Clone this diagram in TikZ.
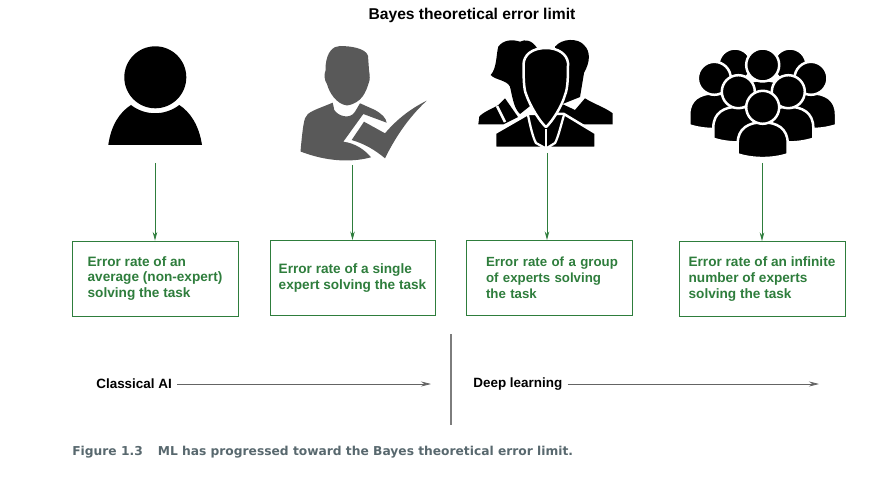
\documentclass[tikz,border=0pt]{standalone}
\usepackage{fontspec}
\setmainfont{Liberation Sans}
\newfontfamily\captionfont{DejaVu Sans}
\usetikzlibrary{arrows.meta}
\definecolor{boxgreen}{RGB}{46,125,60}
\definecolor{linegray}{RGB}{100,100,100}
\definecolor{splitgray}{RGB}{125,125,125}
\definecolor{icongray}{RGB}{89,89,89}
\definecolor{captiongray}{RGB}{88,104,110}
\tikzset{
    errbox/.style={draw=boxgreen, line width=0.55pt, text=boxgreen, align=left, inner sep=0pt, minimum height=1.5cm, font=\bfseries\fontsize{7.75}{9.07}\selectfont},
    errarrow/.style={draw=boxgreen, line width=0.45pt, -{Stealth[length=0.17cm,width=0.09cm]}},
    eraarrow/.style={draw=linegray, line width=0.45pt, -{Stealth[length=0.2cm,width=0.1cm]}},
    eralabel/.style={font=\bfseries\fontsize{7.65}{9}\selectfont, inner sep=0pt},
    outlined/.style={fill=black, draw=white, line width=0.05cm, line join=round},
}
% one person of the crowd: head centre x, y
\newcommand{\crowdbust}[2]{
    \path[outlined] (#1-25,#2+47) -- (#1-25,#2+36) .. controls (#1-25,#2+21) and (#1-14,#2+15) .. (#1,#2+15)
        .. controls (#1+14,#2+15) and (#1+25,#2+21) .. (#1+25,#2+36) -- (#1+25,#2+47)
        .. controls (#1+10,#2+52) and (#1-10,#2+52) .. (#1-25,#2+47) -- cycle;
    \path[outlined] (#1,#2) circle (16.5*0.02cm);
}
\begin{document}
\begin{tikzpicture}[x=0.02cm,y=-0.02cm]
    \useasboundingbox (0,0) rectangle (880,483);
    % average person
    \fill (155.3,77.3) circle (31*0.02cm);
    \fill (108.3,145) .. controls (111,125) and (120,112) .. (131,105)
        .. controls (145,116) and (165,116) .. (179.3,105)
        .. controls (190,112) and (199,125) .. (202,145) -- cycle;
    % single expert
    \fill[icongray] (325.7,65) .. controls (327,52) and (333,46) .. (340,46)
        .. controls (350,46) and (366,48) .. (368,56) -- (369,70) .. controls (370,76) and (370,80) .. (369,82)
        .. controls (366,92) and (362,103) .. (347,105.5) .. controls (336,104) and (329,92) .. (327,84)
        .. controls (324,80) and (324,74) .. (325.7,70) -- cycle;
    \fill[icongray] (332.7,102.7) -- (334.3,110) .. controls (338,116) and (350,120) .. (355,111.7) -- (360,103.3)
        -- (375,110) .. controls (382,114) and (386,118) .. (386.7,122.7) -- (363.3,114) -- (343.3,141.7)
        .. controls (355,143) and (365,150) .. (371,157.3) .. controls (350,163) and (325,161) .. (300.5,151.5)
        .. controls (302,135) and (303,125) .. (305,118.3) .. controls (307,112) and (315,110) .. (332.7,102.7) -- cycle;
    \fill[icongray] (364,121.7) -- (385,133.3) .. controls (398,118) and (412,108) .. (426.7,100.7)
        .. controls (408,118) and (395,138) .. (385,158.3) .. controls (375,150) and (365,144) .. (351.7,140) -- cycle;
    % group of experts
    \fill (498.3,46.7) .. controls (503,40) and (512,39) .. (520,41.7) .. controls (525,39) and (532,40) .. (537,48)
        -- (535,102) -- (520,114) .. controls (514,108) and (513,100) .. (510,86.7)
        .. controls (507,80) and (495,80) .. (490.7,75) .. controls (497,68) and (496,55) .. (498.3,46.7) -- cycle;
    \fill (478.3,124.5) -- (479.3,116.7) .. controls (483,112) and (492,109) .. (498.3,105) -- (505,98.3) -- (518,117) -- (503,124.5) -- cycle;
    \draw[white, line width=0.05cm] (497,106) -- (505,122);
    \fill (555,46.7) .. controls (562,38) and (578,38) .. (584,45) .. controls (591,52) and (590,62) .. (584,73)
        -- (580,97) -- (560,105) -- cycle;
    \fill (612.7,124.5) -- (612.7,113.3) .. controls (606,108) and (592,103) .. (585,98.3) -- (575,110) -- (560,103) -- (555,120) -- (578,124.5) -- cycle;
    \path[outlined] (495,148) -- (495,133) -- (528,114) -- (564,114) -- (595.5,133) -- (595.5,148) -- cycle;
    \path[outlined] (546,48) .. controls (532,48) and (523.5,55) .. (523.5,65) .. controls (523.5,78) and (524,90) .. (526,94)
        .. controls (530,106) and (540,122) .. (546,127) .. controls (552,122) and (562,106) .. (565,95)
        .. controls (568,88) and (568,75) .. (568,63) .. controls (567,54) and (558,48) .. (546,48) -- cycle;
    \draw[white, line width=0.045cm] (528,115) .. controls (530,125) and (533,138) .. (536,143) -- (545,148);
    \draw[white, line width=0.045cm] (564,115) .. controls (561,125) and (558,138) .. (555,143) -- (547,148);
    \draw[white, line width=0.025cm] (546,129) -- (546,148);
    % infinite number of experts
    \crowdbust{735}{65}
    \crowdbust{790}{65}
    \crowdbust{762.7}{65}
    \crowdbust{714.3}{78.3}
    \crowdbust{811}{78.3}
    \crowdbust{738.3}{91.7}
    \crowdbust{788.3}{91.7}
    \crowdbust{762.7}{107.3}
    \node[inner sep=0pt, font=\bfseries\fontsize{8.9}{10}\selectfont] (bayesTitle) at (472,15) {Bayes theoretical error limit};
    \coordinate (avgFoot) at (155,163);
    \coordinate (singleFoot) at (352.5,165);
    \coordinate (groupFoot) at (547,153);
    \coordinate (infFoot) at (762,163);
    \node[errbox, minimum width=3.32cm] (errAvg) at (155,278.5) {Error rate of an\\average (non-expert)\\solving the task};
    \node[errbox, minimum width=3.30cm] (errSingle) at (352.5,278) {Error rate of a single\\expert solving the task};
    \node[errbox, text width=2.52cm, inner xsep=0.4cm, font=\bfseries\fontsize{7.55}{9.07}\selectfont] (errGroup) at (549,278) {\mbox{Error rate of a group}\\of experts solving\\the task};
    \node[errbox, minimum width=3.32cm] (errInf) at (762,279) {Error rate of an infinite\\number of experts\\solving the task};
    \draw[errarrow] (avgFoot) -- (avgFoot |- errAvg.north);
    \draw[errarrow] (singleFoot) -- (singleFoot |- errSingle.north);
    \draw[errarrow] (groupFoot) -- (groupFoot |- errGroup.north);
    \draw[errarrow] (infFoot) -- (infFoot |- errInf.north);
    \node[eralabel, anchor=west] (classicalAI) at (96,384) {Classical AI};
    \node[eralabel, anchor=west] (deepLearning) at (473,384) {Deep learning};
    \coordinate (classicalEnd) at (431,384);
    \coordinate (deepEnd) at (819,384);
    \draw[eraarrow] ([xshift=0.1cm]classicalAI.east) -- (classicalEnd);
    \draw[eraarrow] ([xshift=0.1cm]deepLearning.east) -- (deepEnd);
    \coordinate (splitTop) at (451,334);
    \coordinate (splitBot) at (451,425);
    \draw[splitgray, line width=0.6pt] (splitTop) -- (splitBot);
    \node[anchor=west, inner sep=0pt, text=captiongray, font=\captionfont\bfseries\fontsize{6.98}{9}\selectfont] (figCaption) at (72,452.5) {Figure 1.3\hspace{0.3cm}ML has progressed toward the Bayes theoretical error limit.};
\end{tikzpicture}
\end{document}
